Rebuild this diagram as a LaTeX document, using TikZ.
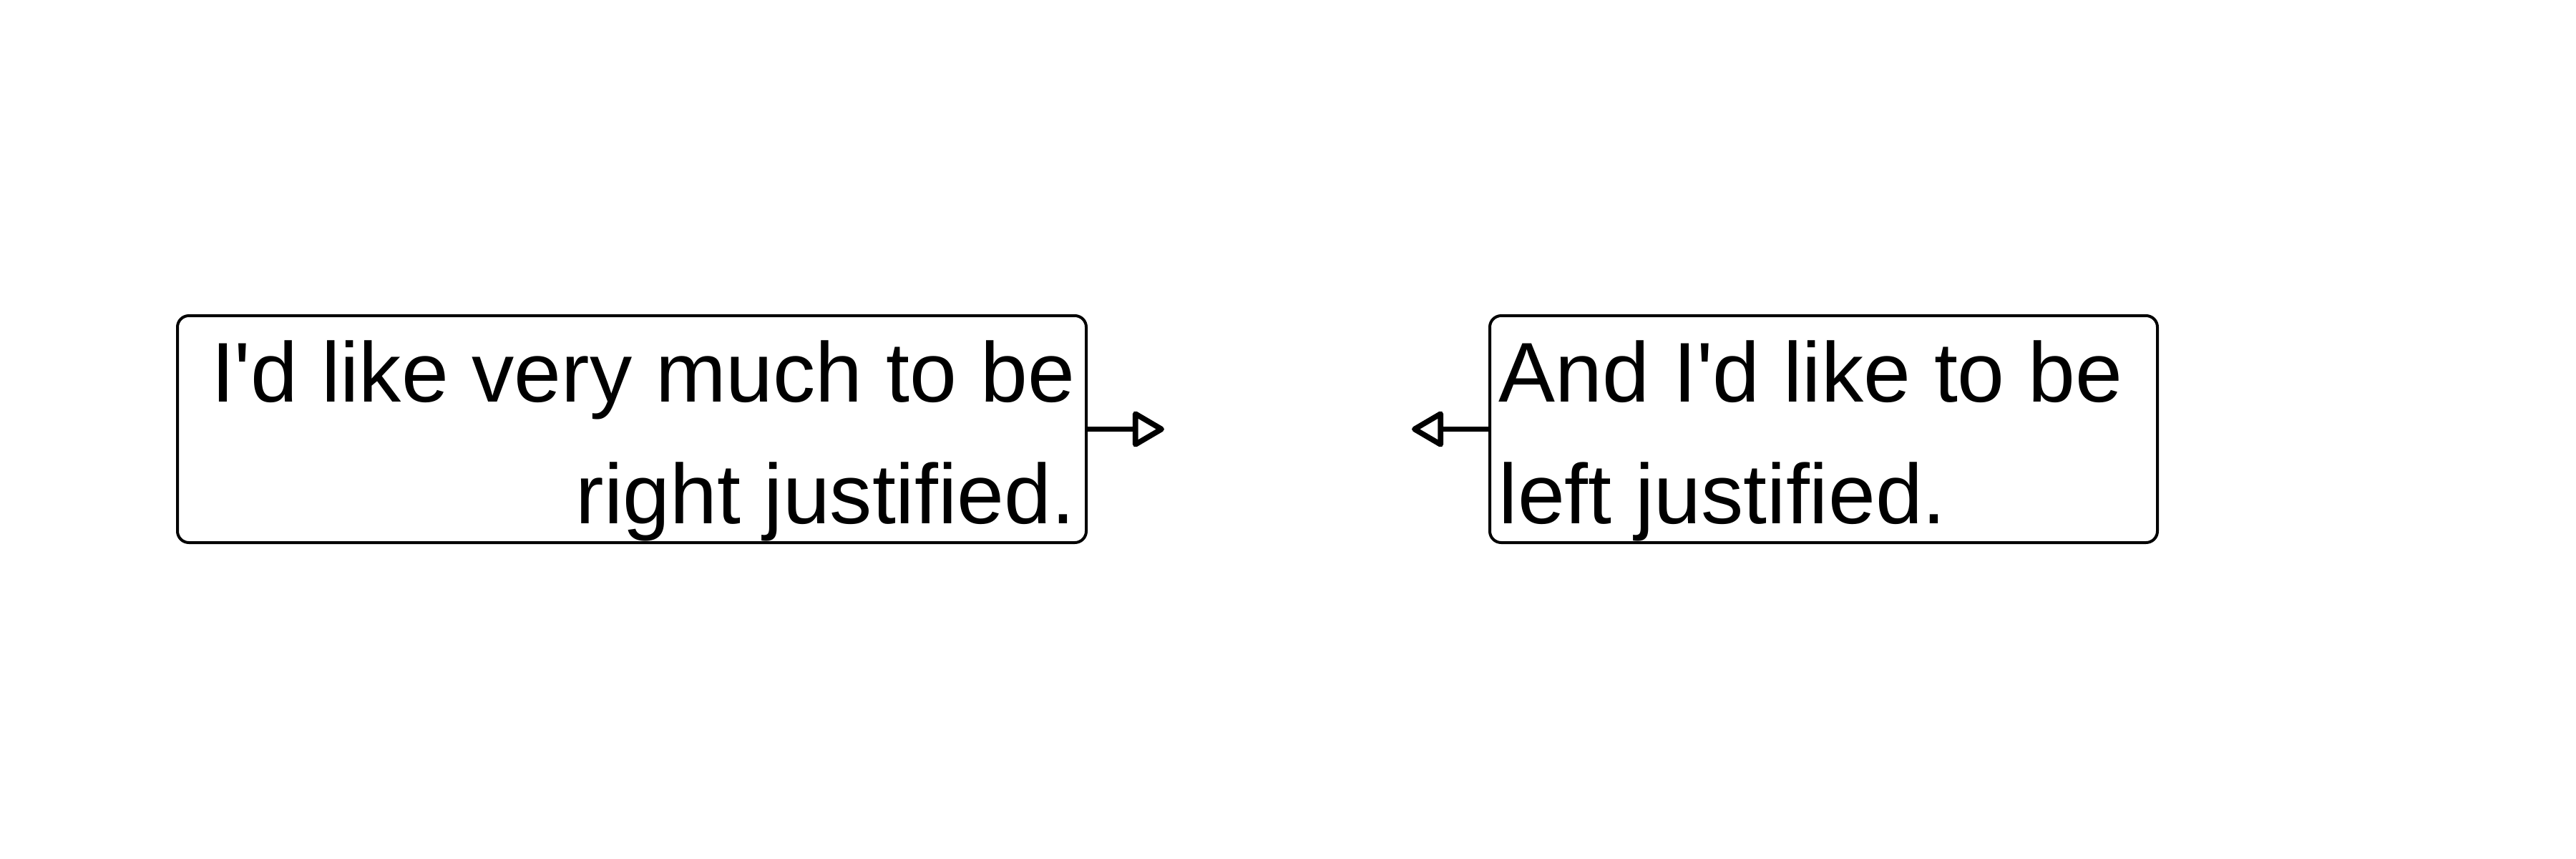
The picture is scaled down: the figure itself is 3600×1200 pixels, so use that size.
\documentclass[tikz,border=0pt]{standalone}
\usepackage{fontspec}
\setmainfont{Liberation Sans}
\usetikzlibrary{arrows.meta}
\begin{document}
\begin{tikzpicture}[x=0.25pt,y=-0.25pt,
  box/.style={draw, line width=1pt, rounded corners=4pt, minimum width=#1, minimum height=79.25pt, inner sep=0pt},
  txt/.style={font=\fontsize{29.6}{42.5}\selectfont, inner sep=0pt},
  conn/.style={line width=1.9pt, -{Triangle[open, length=12pt, width=13.5pt, line join=round, line cap=round]}}]
\useasboundingbox (0,0) rectangle (3600,1200);
\node[box=317.5pt] (lbox) at (883,599.5) {};
\node[box=233.25pt] (rbox) at (2548.5,599.5) {};
\node[txt, anchor=base east] (l1) at (1503,561) {I\textquotesingle d like very much to be};
\node[txt, anchor=base east] (l2) at (1503,731) {right justified.};
\node[txt, anchor=base west] (r1) at (2094,561) {And I\textquotesingle d like to be};
\node[txt, anchor=base west] (r2) at (2094,731) {left justified.};
\coordinate (lend) at (1627,599.5);
\coordinate (rend) at (1973,599.5);
\draw[conn] (lbox.east) -- (lend);
\draw[conn] (rbox.west) -- (rend);
\end{tikzpicture}
\end{document}
